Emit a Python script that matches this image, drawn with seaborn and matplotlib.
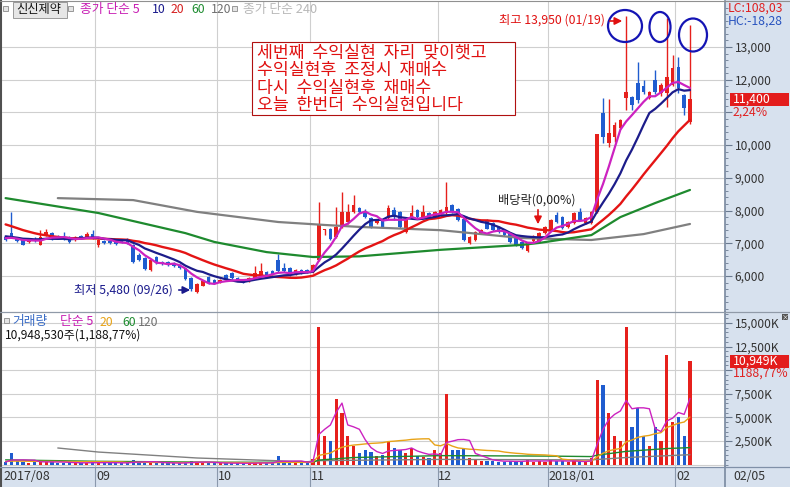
import numpy as np
import pandas as pd
import matplotlib
matplotlib.use("Agg")
import matplotlib.pyplot as plt
from matplotlib.patches import Rectangle, Ellipse
from matplotlib.ticker import MultipleLocator
import seaborn as sns

sns.set_theme(style="white")
plt.rcParams['font.family'] = ['Noto Sans CJK KR', 'DejaVu Sans']
plt.rcParams['axes.unicode_minus'] = False

# ---------------- data (Aug 9 2017 .. Feb 5 2018, daily) ----------------
opens = [7190, 7310, 7160, 7130, 7040, 7130, 6950, 7250, 7310, 7220, 7200, 7190, 7100, 7220, 7190, 7280,
         6950, 7070, 7070, 7100, 7100, 7130, 6950, 6640, 6550, 6180, 6580, 6430, 6430, 6400, 6330, 6240, 5950, 5500, 5700, 5970, 5880,
         5800, 6030, 6090, 5940, 5880, 5850, 5940, 5990, 6120, 6150, 6490, 6240, 6240, 6060, 6180, 6180,
         6120, 6500, 7420, 7440, 7190, 7500, 7650, 7960, 8080, 7960, 7770, 7620, 7740, 7770, 8020, 7960, 7340, 7770, 8020, 7800, 7930, 7800,
         7870, 7930, 8170, 8050, 7750, 7010, 7100, 7310, 7700, 7620, 7500, 7400, 7310, 7200, 7050, 6750, 7070, 7040, 7310,
         7400, 7860, 7800, 7500, 7620, 7960, 7620, 7620, 7960, 10980, 10070, 10250, 10520, 11440, 11470, 11900, 11810, 11440, 11990, 11590, 11590, 11840,
         12390, 11530, 10700]
highs = [7220, 7960, 7200, 7160, 7160, 7190, 7400, 7430, 7340, 7250, 7340, 7220, 7220, 7250, 7340, 7400,
         7130, 7100, 7100, 7130, 7130, 7160, 6980, 6700, 6580, 6520, 6610, 6460, 6460, 6430, 6360, 6250, 5980, 5780, 5880, 6000, 5900,
         5900, 6060, 6120, 5970, 5910, 5960, 6300, 6390, 6150, 6180, 6670, 6400, 6270, 6200, 6210, 6210,
         6360, 8260, 7450, 7470, 8110, 8570, 8200, 8475, 8110, 8050, 7800, 7740, 7770, 8170, 8110, 7990, 7740, 8170, 8050, 8170, 7960, 7990,
         8050, 8870, 8200, 8080, 7780, 7220, 7370, 7430, 7730, 7650, 7530, 7430, 7340, 7230, 7080, 7030, 7250, 7340, 7530,
         7740, 7960, 7830, 7680, 7960, 8080, 7800, 7990, 10350, 11440, 11410, 10700, 10800, 13950, 11500, 12540, 12000, 11650, 12300, 11900, 13900, 12750,
         12690, 11550, 13670]
lows = [7060, 7150, 7040, 6940, 7010, 7040, 6940, 7220, 7100, 7130, 7100, 7010, 7070, 7130, 7160, 7130,
        6900, 6980, 6970, 6950, 7000, 6990, 6400, 6460, 6180, 6150, 6380, 6340, 6300, 6280, 6220, 5880, 5550, 5480, 5680, 5760, 5760,
        5780, 5860, 5920, 5860, 5780, 5830, 5920, 5970, 6000, 6040, 6120, 6130, 6010, 6040, 6070, 6100,
        6100, 6450, 7250, 7100, 7150, 7480, 7600, 7930, 7930, 7770, 7470, 7590, 7470, 7740, 7700, 7470, 7310, 7740, 7770, 7770, 7740, 7770,
        7840, 7900, 7930, 7680, 7070, 6980, 7070, 7280, 7430, 7380, 7310, 7220, 7010, 6930, 6830, 6730, 7040, 7010, 7280,
        7370, 7620, 7440, 7470, 7590, 7680, 7590, 7590, 7930, 10060, 9950, 10100, 10500, 11070, 11070, 11300, 11550, 11400, 11550, 11500, 11170, 11800,
        11600, 10920, 10650]
closes = [7100, 7200, 7070, 6950, 7130, 7070, 7190, 7340, 7130, 7160, 7130, 7040, 7190, 7160, 7280, 7160,
          7100, 7000, 7010, 6980, 7030, 7010, 6430, 6490, 6210, 6490, 6400, 6370, 6330, 6300, 6240, 5900, 5600, 5750, 5850, 5790, 5800,
          5880, 5880, 5940, 5880, 5800, 5940, 6090, 6150, 6030, 6060, 6150, 6150, 6030, 6180, 6090, 6120,
          6330, 7600, 7440, 7130, 7500, 7960, 7960, 8170, 7960, 7800, 7500, 7710, 7500, 8080, 7800, 7500, 7710, 7930, 7800, 7960, 7770, 7960,
          8010, 8110, 7960, 7700, 7100, 7190, 7340, 7400, 7450, 7400, 7340, 7250, 7040, 6950, 6850, 7000, 7220, 7310, 7500,
          7710, 7650, 7470, 7650, 7930, 7710, 7770, 7960, 10350, 10250, 10370, 10610, 10770, 11620, 11230, 11380, 11620, 11620, 11620, 11840, 12080, 12360,
          11750, 11150, 11400]
volumes_k = [300, 1250, 350, 300, 200, 250, 400, 300, 250, 200, 200, 250, 150, 150, 200, 250,
             250, 200, 150, 150, 200, 200, 500, 250, 300, 250, 200, 150, 150, 150, 150, 300, 350, 300, 200, 200, 150,
             150, 150, 150, 150, 120, 150, 200, 250, 150, 150, 900, 300, 250, 250, 200, 300,
             600, 14570, 3000, 2500, 7000, 5500, 3000, 2000, 1200, 1500, 1300, 900, 1000, 2500, 1800, 1500, 1200, 1800, 900, 800, 700, 1500,
             1200, 7500, 1500, 1500, 1600, 700, 600, 400, 400, 400, 300, 300, 400, 300, 400, 500, 300, 400, 300,
             500, 400, 350, 300, 400, 300, 250, 700, 9000, 8400, 5500, 3000, 2500, 14570, 4000, 6000, 3000, 2000, 4000, 2500, 11600, 4500,
             5000, 3000, 10949]
# closes / volumes of the trading days before the visible window (feed the 5/10/20 averages)
history_close = [8300, 8250, 8150, 8100, 8000, 7950, 7850, 7700, 7600, 7500,
                 7400, 7300, 7250, 7200, 7200, 7150, 7200, 7150, 7180]
history_volume_k = [400, 350, 300, 450, 500, 300, 350, 400, 300, 250,
                    300, 350, 300, 250, 300, 250, 300, 250, 300]
# long averages (index, value)
ma60_idx = [0, 16, 31, 36, 45, 53, 61, 75, 89, 92, 101, 106, 112, 118]
ma60_val = [8380, 7925, 7310, 7040, 6730, 6580, 6600, 6800, 6950, 7010, 7250, 7800, 8230, 8630]
ma120_idx = [9, 22, 33, 47, 55, 61, 75, 89, 101, 110, 118]
ma120_val = [8380, 8320, 7960, 7650, 7560, 7500, 7400, 7160, 7100, 7280, 7590]
vma60_idx = [0, 16, 37, 53, 54, 60, 75, 94, 101, 102, 107, 114, 118]
vma60_val = [500, 350, 250, 250, 480, 750, 950, 900, 850, 1000, 1400, 1700, 1800]
vma120_idx = [9, 16, 33, 52, 54, 75, 101, 107, 118]
vma120_val = [1760, 1330, 700, 300, 420, 550, 500, 750, 1050]

month_labels = ['2017/08', '09', '10', '11', '12', '2018/01', '02']
month_start = [0, 16, 37, 53, 75, 94, 116]
price_ticks = [6000, 7000, 8000, 9000, 10000, 11000, 12000, 13000]
vol_ticks_k = [2500, 5000, 7500, 10000, 12500, 15000]

# ---------------- figure ----------------
W, H = 790, 487
fig = plt.figure(figsize=(W / 100, H / 100), dpi=100)
fig.patch.set_facecolor('white')
AXBG = '#d7e1ee'
RED = '#e6201c'
BLUE = '#1f5ccf'
GRID = '#cfcfcf'


def frac(x0, y0, x1, y1):
    return [x0 / W, 1 - y1 / H, (x1 - x0) / W, (y1 - y0) / H]


fig.add_artist(Rectangle((725 / W, 0), 65 / W, 1, transform=fig.transFigure,
                         facecolor=AXBG, edgecolor='none', zorder=0))
fig.add_artist(Rectangle((0, 0), 1, 20 / H, transform=fig.transFigure,
                         facecolor=AXBG, edgecolor='none', zorder=0))

ax = fig.add_axes(frac(2, 1, 725, 312))
axv = fig.add_axes(frac(2, 312, 725, 467))
axd = fig.add_axes(frac(2, 467, 725, 487))

XMIN, XMAX = -0.62, 124.04
n = len(closes)
idx = np.arange(n)
O = np.array(opens, float)
Hh = np.array(highs, float)
L = np.array(lows, float)
C = np.array(closes, float)
V = np.array(volumes_k, float)
up = C >= O
cols = np.where(up, RED, BLUE)

# moving averages
full_c = pd.Series(history_close + closes, dtype=float)
hc = len(history_close)
ma = {k: full_c.rolling(k).mean().iloc[hc:].to_numpy() for k in (5, 10, 20)}
full_v = pd.Series(history_volume_k + volumes_k, dtype=float)
hv = len(history_volume_k)
vma = {k: full_v.rolling(k).mean().iloc[hv:].to_numpy() for k in (5, 20)}

# ---- price panel ----
for t in price_ticks:
    ax.axhline(t, color=GRID, lw=0.8, zorder=0)
for m in month_start[1:]:
    ax.axvline(m - 0.5, color=GRID, lw=0.8, zorder=0)
    axv.axvline(m - 0.5, color=GRID, lw=0.8, zorder=0)

ax.vlines(idx, L, Hh, colors=cols, lw=1.0, zorder=3)
body_h = np.maximum(np.abs(C - O), 25)
ax.bar(idx, body_h, bottom=np.minimum(O, C), width=0.62, color=cols, linewidth=0, zorder=3)

sns.lineplot(x=ma120_idx, y=ma120_val, ax=ax, color='#808080', lw=1.6, zorder=4)
sns.lineplot(x=ma60_idx, y=ma60_val, ax=ax, color='#1e8a2e', lw=1.6, zorder=4)
sns.lineplot(x=idx, y=ma[20], ax=ax, color='#e41414', lw=1.7, zorder=4)
sns.lineplot(x=idx, y=ma[10], ax=ax, color='#1c1c8a', lw=1.6, zorder=4)
sns.lineplot(x=idx, y=ma[5], ax=ax, color='#cc22c0', lw=1.6, zorder=4)

ax.set_xlim(XMIN, XMAX)
ax.set_ylim(4899, 14406)
ax.yaxis.tick_right()
ax.set_yticks(price_ticks)
# the 11,000 label is hidden behind the current-price box in the reference
ax.set_yticklabels(['' if t == 11000 else f'{t:,}' for t in price_ticks])
ax.yaxis.set_minor_locator(MultipleLocator(200))
ax.tick_params(axis='y', which='major', direction='out', length=5, width=0.8,
               color='#6a7a90', labelcolor='#333333', labelsize=8.6, pad=2, right=True, left=False)
ax.tick_params(axis='y', which='minor', direction='out', length=2.5, width=0.6,
               color='#6a7a90', right=True, left=False)
ax.tick_params(axis='x', bottom=False, labelbottom=False)
ax.set_xlabel('')
ax.set_ylabel('')

# ---- volume panel ----
for t in vol_ticks_k + [0]:
    axv.axhline(t, color=GRID, lw=0.8, zorder=0)
axv.bar(idx, V, width=0.56, color=cols, linewidth=0, zorder=3)
sns.lineplot(x=vma120_idx, y=vma120_val, ax=axv, color='#808080', lw=1.0, zorder=4)
sns.lineplot(x=vma60_idx, y=vma60_val, ax=axv, color='#1e8a2e', lw=1.0, zorder=4)
sns.lineplot(x=idx, y=vma[20], ax=axv, color='#e8a317', lw=1.0, zorder=4)
sns.lineplot(x=idx, y=vma[5], ax=axv, color='#cc22c0', lw=1.0, zorder=4)
axv.set_xlim(XMIN, XMAX)
axv.set_ylim(-254, 16165)
axv.yaxis.tick_right()
axv.set_yticks(vol_ticks_k)
axv.set_yticklabels(['' if t == 10000 else f'{t:,}K' for t in vol_ticks_k])
axv.yaxis.set_minor_locator(MultipleLocator(500))
axv.tick_params(axis='y', which='major', direction='out', length=5, width=0.8,
                color='#6a7a90', labelcolor='#333333', labelsize=8.6, pad=2, right=True, left=False)
axv.tick_params(axis='y', which='minor', direction='out', length=2.5, width=0.6,
                color='#6a7a90', right=True, left=False)
axv.tick_params(axis='x', bottom=False, labelbottom=False)
axv.set_xlabel('')
axv.set_ylabel('')

# ---- date axis ----
axd.set_facecolor(AXBG)
axd.set_xlim(XMIN, XMAX)
axd.set_ylim(0, 1)
for lab, m in zip(month_labels, month_start):
    if m > 0:
        axd.axvline(m - 0.5, color='#8a98ac', lw=0.8)
    axd.text(m - 0.5 + 0.1, 0.5, lab, fontsize=9, color='#333333', ha='left', va='center')
axd.set_xticks([])
axd.set_yticks([])

for a in (ax, axv, axd):
    for s in ('top', 'left', 'right', 'bottom'):
        a.spines[s].set_visible(False)
for a in (ax, axv, axd):
    a.spines['right'].set_visible(True)
    a.spines['right'].set_color('#7d8ca2')

# ---------------- overlay (pixel coordinates) ----------------
ov = fig.add_axes([0, 0, 1, 1], zorder=10)
ov.set_xlim(0, W)
ov.set_ylim(H, 0)
ov.axis('off')
ov.patch.set_alpha(0)

# frame lines
ov.plot([1, 1], [0, H], color='#505050', lw=1.5)
ov.plot([0, W], [312, 312], color='#909aa8', lw=0.9)
ov.plot([0, W], [467, 467], color='#8090a8', lw=0.9)
ov.plot([0, W], [0.5, 0.5], color='#909090', lw=0.8)


def T(x, y, s, color='#222222', size=9, ha='left', va='center', **kw):
    ov.text(x, y, s, color=color, fontsize=size, ha=ha, va=va, **kw)


def icon(x, y):
    ov.add_patch(Rectangle((x, y), 5, 5, facecolor='#e4e4e4', edgecolor='#8a8a8a', lw=0.6))


# header
icon(2.5, 6)
ov.add_patch(Rectangle((12.5, 1.5), 54, 16, facecolor='#e6e6e6', edgecolor='#9a9a9a', lw=0.7))
T(16, 9.5, '신신제약', color='#111111', size=8.8)
icon(68, 6)
T(80, 9.5, '종가 단순 5', color='#c81eb4', size=9.2)
T(152, 9.5, '10', color='#1a1a8c', size=8.8)
T(171, 9.5, '20', color='#d62020', size=8.8)
T(191, 9.5, '60', color='#1e8c30', size=8.8)
T(211, 9.5, '120', color='#707070', size=8.8)
icon(232, 6)
T(243, 9.5, '종가 단순 240', color='#b8b8b8', size=9.2)

# right axis texts
T(728, 8, 'LC:108,03', color='#e02020', size=8.8)
T(728, 21, 'HC:-18,28', color='#2a55c0', size=8.8)
ov.add_patch(Rectangle((730, 92.5), 59, 13, facecolor='#e31c1c', edgecolor='none'))
T(733, 99, '11,400', color='white', size=8.8)
T(733, 112, '2,24%', color='#e02020', size=8.8)

# volume header & right labels
icon(4, 318)
T(12, 322, '거래량', color='#3a6cc6', size=9.2)
T(60, 322, '단순 5', color='#c81eb4', size=9.2)
T(100, 322, '20', color='#e8a317', size=8.8)
T(122, 322, '60', color='#1e8c30', size=8.8)
T(138, 322, '120', color='#707070', size=8.8)
T(5, 335, '10,948,530주(1,188,77%)', color='#111111', size=8.6)
ov.add_patch(Rectangle((730, 354.5), 59, 13, facecolor='#e31c1c', edgecolor='none'))
T(733, 361, '10,949K', color='white', size=8.8)
T(733, 373, '1188,77%', color='#e02020', size=8.8)
ov.add_patch(Rectangle((782, 314), 6, 6, facecolor='#555555', edgecolor='none'))
T(785, 317, '×', color='white', size=5, ha='center')
T(733, 477, '02/05', color='#333333', size=8.8)

# comment box
ov.add_patch(Rectangle((252, 42), 263, 73, facecolor='white', edgecolor='#b01010', lw=0.8))
for k, line in enumerate(['세번째  수익실현  자리  맞이햇고', '수익실현후  조정시  재매수',
                          '다시  수익실현후  재매수', '오늘  한번더  수익실현입니다']):
    T(257, 52.5 + k * 17.6, line, color='#e01010', size=12.4)

# high annotation
T(605, 20, '최고 13,950 (01/19)', color='#e01010', size=8.8, ha='right')
ov.annotate('', xy=(625, 21), xytext=(607, 21),
            arrowprops=dict(arrowstyle='-|>', color='#e01010', lw=1.2, mutation_scale=11))
for (cx, cy, ew, eh) in [(625, 26, 34, 32), (660, 27, 21, 30), (693, 35, 28, 33)]:
    ov.add_patch(Ellipse((cx, cy), ew, eh, facecolor='none', edgecolor='#1414b4', lw=1.6))

# low annotation
T(173, 290, '최저 5,480 (09/26)', color='#1a1a8c', size=8.8, ha='right')
ov.annotate('', xy=(193, 290), xytext=(176, 290),
            arrowprops=dict(arrowstyle='-|>', color='#1a1a8c', lw=1.2, mutation_scale=11))

# ex-dividend annotation
T(498, 200, '배당락(0,00%)', color='#222222', size=8.8)
ov.annotate('', xy=(538, 227), xytext=(538, 207),
            arrowprops=dict(arrowstyle='-|>', color='#e01010', lw=1.2, mutation_scale=11))

fig.savefig('out.png', dpi=100)
